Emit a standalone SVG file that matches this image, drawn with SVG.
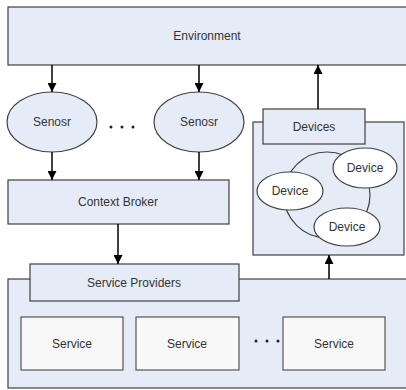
<svg xmlns="http://www.w3.org/2000/svg" width="406" height="390" viewBox="0 0 406 390">
  <style>
    .box { fill: #e6ecf7; stroke: #404040; stroke-width: 1.2; }
    .svc { fill: #f8f8f8; stroke: #555555; stroke-width: 1.2; }
    .dev { fill: #ffffff; stroke: #404040; stroke-width: 1.2; }
    .ring { fill: none; stroke: #404040; stroke-width: 1.2; }
    .lbl { font-family: "Liberation Sans", Arial, sans-serif; font-size: 12px; fill: #333333; text-anchor: middle; dominant-baseline: central; }
    .dots { fill: #222222; }
    .conn { stroke: #000000; stroke-width: 1.5; fill: none; marker-end: url(#arrow); }
  </style>
  <defs>
    <marker id="arrow" viewBox="0 0 10 10" refX="10" refY="5" markerWidth="10" markerHeight="9" markerUnits="userSpaceOnUse" orient="auto">
      <path d="M0,0 L10,5 L0,10 Z" fill="#000000"/>
    </marker>
  </defs>
  <rect width="406" height="390" fill="#ffffff"/>

  <g id="environment">
    <rect class="box" x="8" y="7" width="402" height="58"/>
    <text class="lbl" x="207" y="36">Environment</text>
  </g>

  <g id="sensor1">
    <ellipse class="box" cx="52" cy="122" rx="45" ry="30"/>
    <text class="lbl" x="52" y="122">Senosr</text>
  </g>
  <g id="sensor-dots">
    <circle class="dots" cx="111" cy="127" r="1.5"/>
    <circle class="dots" cx="122" cy="127" r="1.5"/>
    <circle class="dots" cx="133" cy="127" r="1.5"/>
  </g>
  <g id="sensor2">
    <ellipse class="box" cx="199" cy="122" rx="45" ry="30"/>
    <text class="lbl" x="199" y="122">Senosr</text>
  </g>

  <g id="context-broker">
    <rect class="box" x="8" y="180" width="221" height="44"/>
    <text class="lbl" x="118" y="202">Context Broker</text>
  </g>

  <g id="device-pool">
    <rect class="box" x="253" y="122" width="151" height="133"/>
    <circle class="ring" cx="327" cy="195" r="43"/>
    <ellipse class="dev" cx="290" cy="191" rx="33" ry="19"/>
    <text class="lbl" x="290" y="191">Device</text>
    <ellipse class="dev" cx="365" cy="168" rx="32" ry="20"/>
    <text class="lbl" x="365" y="168">Device</text>
    <ellipse class="dev" cx="347" cy="227" rx="33" ry="19"/>
    <text class="lbl" x="347" y="227">Device</text>
  </g>
  <g id="devices">
    <rect class="box" x="263" y="109" width="102" height="35"/>
    <text class="lbl" x="314" y="127">Devices</text>
  </g>

  <g id="service-pool">
    <rect class="box" x="8" y="279" width="402" height="109"/>
    <rect class="svc" x="21" y="317" width="102" height="53"/>
    <text class="lbl" x="72" y="344">Service</text>
    <rect class="svc" x="136" y="317" width="103" height="53"/>
    <text class="lbl" x="187" y="344">Service</text>
    <circle class="dots" cx="256" cy="341" r="1.5"/>
    <circle class="dots" cx="267" cy="341" r="1.5"/>
    <circle class="dots" cx="278" cy="341" r="1.5"/>
    <rect class="svc" x="283" y="317" width="102" height="53"/>
    <text class="lbl" x="334" y="344">Service</text>
  </g>
  <g id="service-providers">
    <rect class="box" x="30" y="264" width="209" height="37"/>
    <text class="lbl" x="134" y="283">Service Providers</text>
  </g>

  <g id="connectors">
    <line class="conn" x1="52" y1="65" x2="52" y2="92"/>
    <line class="conn" x1="199" y1="65" x2="199" y2="92"/>
    <line class="conn" x1="52" y1="152" x2="52" y2="180"/>
    <line class="conn" x1="199" y1="152" x2="199" y2="180"/>
    <line class="conn" x1="118" y1="224" x2="118" y2="264"/>
    <line class="conn" x1="318" y1="109" x2="318" y2="65"/>
    <line class="conn" x1="329" y1="279" x2="329" y2="255"/>
  </g>
</svg>
